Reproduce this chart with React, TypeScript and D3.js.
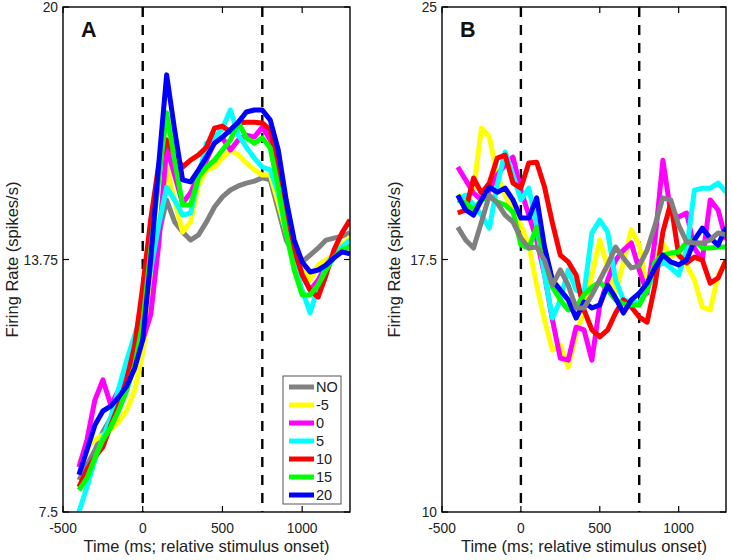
import React from "react";
import * as d3 from "d3";

const times = [-400, -350, -300, -250, -200, -150, -100, -50, 0, 50, 100, 150, 200, 250, 300, 350, 400, 450, 500, 550, 600, 650, 700, 750, 800, 850, 900, 950, 1000, 1050, 1100, 1150, 1200, 1250, 1300];

const seriesNames = ["NO", "-5", "0", "5", "10", "15", "20"];
const seriesColors = ["#808080", "#ffff00", "#ff00ff", "#00ffff", "#ff0000", "#00ff00", "#0000ff"];

// Panel A
const aNO = [8.29, 8.66, 9.03, 9.48, 9.83, 10.27, 10.64, 11.21, 12.0, 13.24, 14.36, 15.22, 14.68, 14.43, 14.23, 14.36, 14.68, 15.05, 15.3, 15.47, 15.57, 15.64, 15.69, 15.77, 15.72, 14.98, 14.23, 13.86, 13.69, 13.86, 14.03, 14.23, 14.28, 14.33, 14.41];
const aM5 = [8.71, 9.08, 9.28, 9.41, 9.55, 9.73, 10.02, 10.52, 11.44, 12.75, 14.48, 16.04, 15.22, 14.43, 14.68, 15.59, 15.97, 16.04, 16.26, 16.46, 16.34, 16.14, 15.97, 15.84, 15.84, 15.15, 14.41, 13.86, 13.61, 13.24, 13.61, 13.74, 13.86, 14.11, 14.31];
const a0 = [8.61, 9.28, 10.27, 10.77, 10.15, 10.52, 11.01, 11.39, 11.76, 12.38, 14.11, 16.53, 15.84, 15.15, 15.4, 15.84, 16.21, 16.66, 16.76, 16.46, 16.71, 16.83, 16.78, 17.03, 16.71, 15.54, 14.48, 13.99, 13.37, 12.99, 13.24, 13.61, 13.86, 14.03, 14.16];
const a5 = [7.5, 8.12, 8.79, 9.33, 9.85, 10.57, 11.26, 11.88, 12.5, 13.49, 14.6, 15.54, 15.22, 14.85, 14.9, 15.79, 16.63, 16.76, 17.0, 17.45, 16.83, 16.53, 16.26, 16.04, 15.97, 15.4, 14.41, 13.66, 12.99, 12.43, 13.07, 13.56, 13.91, 14.06, 14.23];
const a10 = [8.12, 8.54, 8.86, 9.11, 9.65, 10.15, 10.77, 11.63, 13.07, 14.73, 16.09, 16.71, 16.34, 16.04, 16.21, 16.34, 16.53, 17.0, 17.05, 16.91, 17.13, 17.15, 17.15, 17.13, 16.96, 16.04, 14.98, 13.99, 13.37, 12.99, 12.82, 13.37, 13.99, 14.41, 14.73];
const a15 = [8.04, 8.34, 8.84, 9.28, 9.6, 10.02, 10.52, 11.14, 12.18, 13.99, 15.72, 17.38, 16.21, 15.1, 15.1, 15.79, 16.04, 16.21, 16.46, 16.71, 17.15, 16.76, 16.63, 16.76, 16.51, 15.54, 14.41, 13.49, 12.87, 12.87, 13.12, 13.49, 13.81, 13.99, 14.06];
const a20 = [8.42, 9.03, 9.65, 10.0, 10.12, 10.35, 10.62, 11.06, 11.76, 13.74, 16.09, 18.32, 16.96, 15.72, 15.67, 15.97, 16.29, 16.63, 16.78, 16.96, 17.15, 17.4, 17.45, 17.45, 17.2, 16.46, 15.22, 14.23, 13.69, 13.44, 13.49, 13.61, 13.79, 13.94, 13.89];

// Panel B
const bNO = [18.46, 18.08, 17.84, 18.61, 19.41, 19.18, 18.82, 18.61, 18.14, 17.84, 17.87, 17.48, 16.74, 17.19, 16.74, 16.06, 16.06, 16.45, 16.89, 17.34, 17.87, 17.54, 17.25, 17.31, 17.78, 18.52, 19.33, 19.27, 18.52, 18.02, 17.99, 17.99, 18.08, 18.29, 18.23];
const bM5 = [19.41, 19.27, 19.56, 21.4, 21.14, 20.01, 19.41, 18.97, 18.52, 17.93, 16.74, 15.7, 14.81, 14.96, 14.31, 15.26, 16.0, 17.04, 18.08, 17.28, 16.5, 17.43, 18.38, 17.93, 16.59, 17.48, 17.99, 17.57, 17.72, 17.34, 16.89, 16.09, 16.0, 17.04, 17.43];
const b0 = [20.25, 19.86, 19.47, 19.27, 19.56, 20.01, 20.31, 20.54, 19.56, 18.82, 18.08, 17.04, 15.7, 14.57, 14.51, 15.49, 15.41, 14.51, 16.15, 16.89, 17.48, 17.78, 17.99, 17.19, 16.5, 18.08, 20.45, 18.88, 18.76, 18.88, 17.84, 17.48, 19.27, 18.97, 18.08];
const b5 = [19.27, 19.41, 19.12, 18.82, 18.43, 19.71, 20.69, 20.01, 19.27, 19.62, 18.52, 17.04, 15.76, 16.3, 17.19, 16.59, 16.5, 18.29, 18.67, 18.32, 16.89, 16.3, 16.24, 16.21, 16.59, 17.19, 17.43, 17.25, 17.04, 17.78, 19.56, 19.62, 19.62, 19.77, 19.5];
const b10 = [18.88, 18.97, 19.92, 19.47, 19.77, 20.51, 20.6, 19.77, 19.62, 20.37, 20.39, 19.65, 18.58, 17.63, 17.43, 17.04, 16.0, 15.41, 15.2, 15.41, 15.91, 16.3, 16.09, 15.79, 15.64, 16.74, 18.32, 19.18, 17.63, 17.4, 17.57, 17.48, 16.8, 16.95, 17.48];
const b15 = [19.27, 19.18, 18.97, 19.27, 19.36, 19.21, 19.12, 18.91, 17.93, 17.84, 18.46, 17.54, 16.68, 16.3, 16.0, 16.09, 16.45, 16.68, 16.83, 16.59, 16.3, 16.18, 16.15, 16.15, 16.59, 17.43, 17.63, 17.69, 17.72, 18.02, 18.08, 17.84, 17.84, 17.87, 17.87];
const b20 = [19.41, 18.97, 18.82, 19.27, 19.65, 19.5, 19.62, 19.27, 18.73, 18.73, 19.33, 17.87, 16.89, 16.59, 16.3, 15.76, 16.24, 16.06, 16.15, 16.74, 16.36, 15.91, 16.3, 16.5, 16.8, 17.25, 17.63, 17.43, 17.34, 17.48, 18.08, 18.43, 18.14, 17.93, 18.46];

const xTicks = [-500, 0, 500, 1000];
const eventTimes = [0, 750];
const aYTicks = [7.5, 13.75, 20];
const bYTicks = [10, 17.5, 25];
const xLabel = "Time (ms; relative stimulus onset)";
const yLabel = "Firing Rate (spikes/s)";

const FONT = "'Liberation Sans', Arial, Helvetica, sans-serif";

type PanelProps = {
  id: string;
  letter: string;
  left: number;
  right: number;
  yDomain: [number, number];
  yTicks: number[];
  data: number[][];
  order: number[];
  showLegend: boolean;
  yLabelX: number;
};

function Panel({ id, letter, left, right, yDomain, yTicks, data, order, showLegend, yLabelX }: PanelProps) {
  const top = 7;
  const bottom = 512;
  const x = d3.scaleLinear().domain([-500, 1300]).range([left, right]);
  const y = d3.scaleLinear().domain(yDomain).range([bottom, top]);
  const line = d3
    .line<number>()
    .x((_, i) => x(times[i]))
    .y((v) => y(v));
  const tickLen = 6;
  const legX = left + 220;
  const legY = 376;
  return (
    <g>
      <defs>
        <clipPath id={`clip-${id}`}>
          <rect x={left} y={top} width={right - left} height={bottom - top} />
        </clipPath>
      </defs>
      <rect x={left} y={top} width={right - left} height={bottom - top} fill="#fff" />
      {eventTimes.map((t) => (
        <line
          key={t}
          x1={x(t)}
          x2={x(t)}
          y1={top}
          y2={bottom}
          stroke="#000"
          strokeWidth={2.4}
          strokeDasharray="10,8"
        />
      ))}
      <g clipPath={`url(#clip-${id})`}>
        {order.map((k) => (
          <path
            key={k}
            d={line(data[k]) || ""}
            fill="none"
            stroke={seriesColors[k]}
            strokeWidth={5}
            strokeLinejoin="round"
          />
        ))}
      </g>
      {/* box */}
      <rect x={left} y={top} width={right - left} height={bottom - top} fill="none" stroke="#000" strokeWidth={1.4} />
      {xTicks.map((t) => (
        <g key={t}>
          <line x1={x(t)} x2={x(t)} y1={bottom} y2={bottom - tickLen} stroke="#000" strokeWidth={1.2} />
          <line x1={x(t)} x2={x(t)} y1={top} y2={top + tickLen} stroke="#000" strokeWidth={1.2} />
          <text x={x(t)} y={533} textAnchor="middle" fontFamily={FONT} fontSize={13.8} fill="#222">
            {t}
          </text>
        </g>
      ))}
      {yTicks.map((v) => (
        <g key={v}>
          <line x1={left} x2={left + tickLen} y1={y(v)} y2={y(v)} stroke="#000" strokeWidth={1.2} />
          <line x1={right} x2={right - tickLen} y1={y(v)} y2={y(v)} stroke="#000" strokeWidth={1.2} />
          <text x={left - 5} y={y(v) + 5} textAnchor="end" fontFamily={FONT} fontSize={13.8} fill="#222">
            {v}
          </text>
        </g>
      ))}
      <text x={(left + right) / 2} y={552} textAnchor="middle" fontFamily={FONT} fontSize={16.5} fill="#222">
        {xLabel}
      </text>
      <text
        transform={`translate(${yLabelX},${(top + bottom) / 2}) rotate(-90)`}
        textAnchor="middle"
        fontFamily={FONT}
        fontSize={16.5}
        fill="#222"
      >
        {yLabel}
      </text>
      <text x={left + 18} y={37} fontFamily={FONT} fontSize={21.5} fontWeight="bold" fill="#111">
        {letter}
      </text>
      {showLegend && (
        <g>
          <rect x={legX} y={legY} width={58} height={128} fill="#fff" stroke="#555" strokeWidth={1} />
          {seriesNames.map((name, i) => (
            <g key={name}>
              <line
                x1={legX + 6}
                x2={legX + 31}
                y1={legY + 11 + i * 18}
                y2={legY + 11 + i * 18}
                stroke={seriesColors[i]}
                strokeWidth={5}
              />
              <text x={legX + 33} y={legY + 16 + i * 18} fontFamily={FONT} fontSize={14.5} fill="#222">
                {name}
              </text>
            </g>
          ))}
        </g>
      )}
    </g>
  );
}

export default function App() {
  const aData = [aNO, aM5, a0, a5, a10, a15, a20];
  const bData = [bNO, bM5, b0, b5, b10, b15, b20];
  return (
    <svg
      width={731}
      height={560}
      style={{ position: "absolute", left: 0, top: 0, background: "#fff" }}
    >
      <rect x={0} y={0} width={731} height={560} fill="#fff" />
      <Panel
        id="A"
        letter="A"
        left={63}
        right={350}
        yDomain={[7.5, 20]}
        yTicks={aYTicks}
        data={aData}
        order={[0, 1, 2, 3, 4, 5, 6]}
        showLegend={true}
        yLabelX={18}
      />
      <Panel
        id="B"
        letter="B"
        left={442}
        right={726}
        yDomain={[10, 25]}
        yTicks={bYTicks}
        data={bData}
        order={[1, 2, 3, 4, 5, 6, 0]}
        showLegend={false}
        yLabelX={400}
      />
    </svg>
  );
}
